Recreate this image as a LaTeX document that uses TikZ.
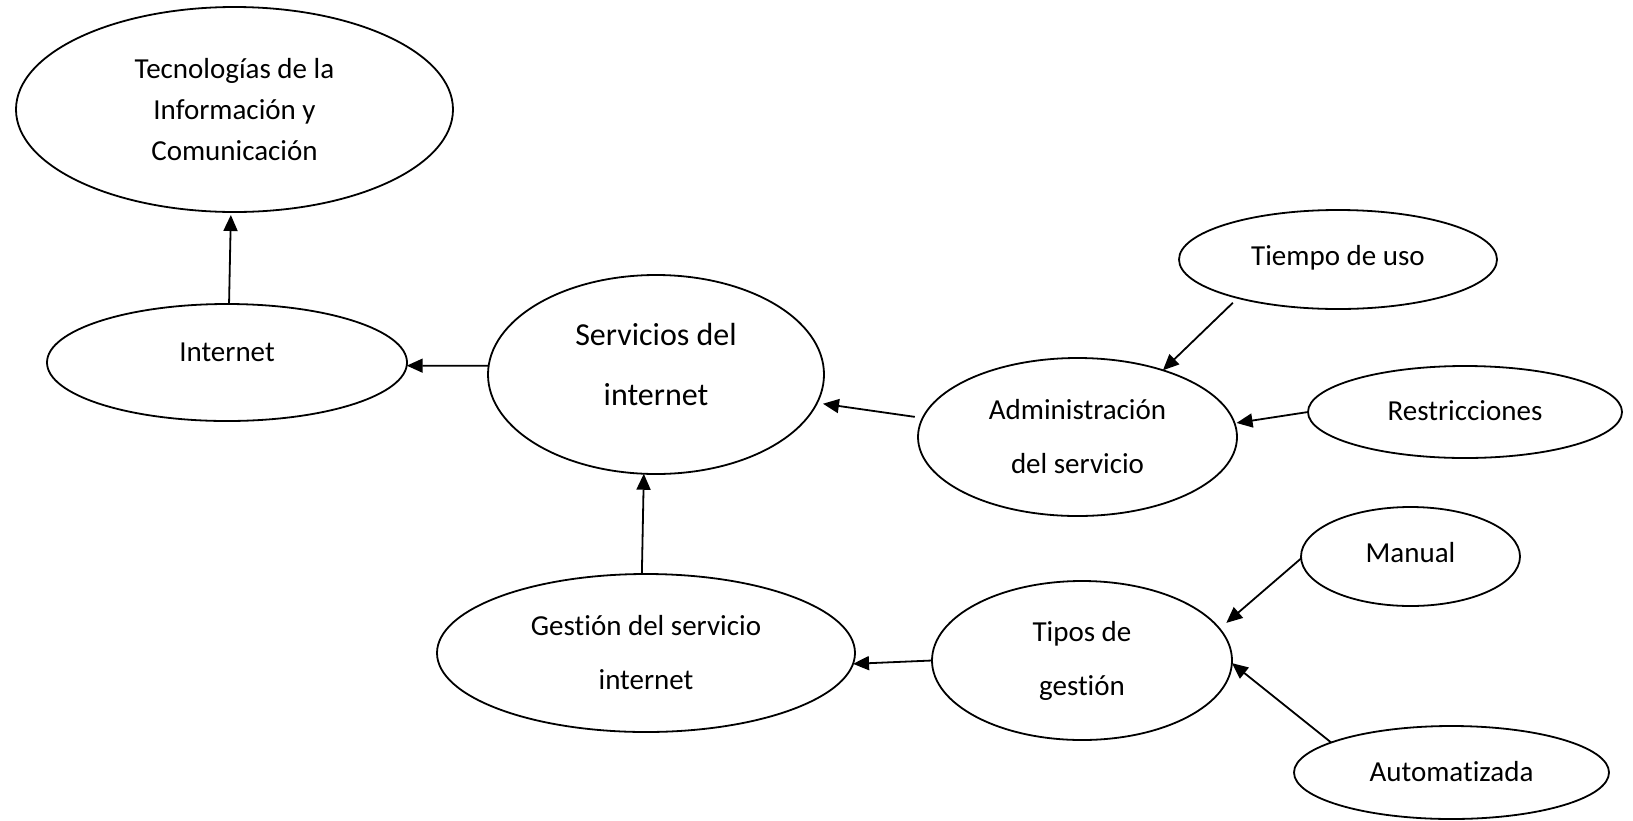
\documentclass[tikz,border=0pt]{standalone}
\usepackage{fontspec}
\setmainfont[RawFeature={-liga;-clig}]{Carlito}
\usetikzlibrary{shapes.geometric,arrows.meta}
\begin{document}
\begin{tikzpicture}[x=1pt,y=-1pt,
  ell/.style={draw,ellipse,line width=1.8pt,inner sep=0pt,outer sep=0pt,align=center,font=\fontsize{29}{54}\selectfont},
  arr/.style={line width=1.8pt,-{Triangle[length=16pt,width=14pt]}}]
\useasboundingbox (0,0) rectangle (1633,820);

\node[ell,minimum width=437pt,minimum height=205pt,font=\fontsize{29}{41}\selectfont] (tec) at (234.5,109.5) {Tecnologías de la\\Información y\\Comunicación};
\node[ell,minimum width=360pt,minimum height=117pt,text depth=21pt] (int) at (227,362.5) {Internet};
\node[ell,minimum width=336pt,minimum height=199pt,font=\fontsize{32}{60}\selectfont,text depth=21pt] (serv) at (656,374.5) {Servicios del\\internet};
\node[ell,minimum width=318pt,minimum height=99pt,text depth=9pt] (tie) at (1338,259.5) {Tiempo de uso};
\node[ell,minimum width=319pt,minimum height=158pt] (adm) at (1077.5,437) {Administración\\del servicio};
\node[ell,minimum width=314pt,minimum height=92pt,text depth=3pt] (res) at (1465,412) {Restricciones};
\node[ell,minimum width=219pt,minimum height=99pt,text depth=9pt] (man) at (1410.5,556.5) {Manual};
\node[ell,minimum width=300pt,minimum height=159pt] (tip) at (1082,660.5) {Tipos de\\gestión};
\node[ell,minimum width=418pt,minimum height=158pt] (ges) at (646,653) {Gestión del servicio\\internet};
\node[ell,minimum width=315pt,minimum height=93pt,text depth=3pt] (aut) at (1451.5,772.5) {Automatizada};

\draw[arr,shorten >=3pt] (int.88) -- (tec.268);
\draw[arr] (serv.177) -- (int.359);
\draw[arr,shorten <=8pt,shorten >=6pt] (adm.173.4) -- (serv.350.4);
\draw[arr,shorten <=7pt] (tie.201.6) -- (adm.38.5);
\draw[arr,shorten >=2pt] (res.180) -- (adm.5);
\draw[arr] (ges.93) -- (serv.263);
\draw[arr] (tip.180) -- (ges.357.3);
\draw[arr,shorten >=9pt] (man.181) -- (tip.13.3);
\draw[arr] (aut.166) -- (tip.359);
\end{tikzpicture}
\end{document}
